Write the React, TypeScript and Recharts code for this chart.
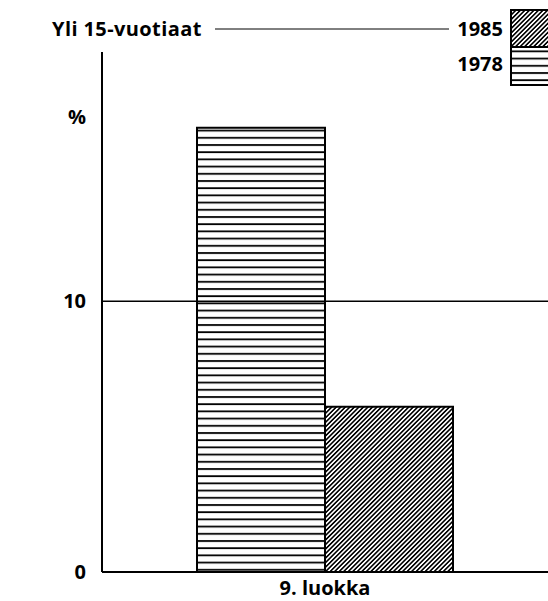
import React from "react";
import { BarChart, Bar, XAxis, YAxis, ReferenceLine } from "recharts";

const categories = ["9. luokka"];
const values1978 = [16.4];
const values1985 = [6.1];
const yTicks = [0, 10];
const groupLabel = "Yli 15-vuotiaat";
const seriesNames = ["1985", "1978"];

const data = categories.map((c, i) => ({ name: c, y1978: values1978[i], y1985: values1985[i] }));

const FONT = "'Open Sans', 'DejaVu Sans', sans-serif";
const textStyle = { fontFamily: FONT, fontWeight: 700, fontSize: 20, fill: "#000" };

function Patterns({ suffix }: { suffix: string }) {
  return (
    <defs>
      <pattern id={`horiz${suffix}`} patternUnits="userSpaceOnUse" width="10" height="7.2">
        <rect width="10" height="7.2" fill="#fff" />
        <line x1="0" y1="1" x2="10" y2="1" stroke="#000" strokeWidth="1.8" />
      </pattern>
      <pattern id={`diag${suffix}`} patternUnits="userSpaceOnUse" width="3.2" height="10" patternTransform="rotate(45)">
        <rect width="3.2" height="10" fill="#fff" />
        <line x1="0.8" y1="0" x2="0.8" y2="10" stroke="#000" strokeWidth="1.6" />
      </pattern>
    </defs>
  );
}

// title + legend in the top strip
function LegendBox() {
  return (
    <svg width={548} height={100} style={{ position: "absolute", left: 0, top: 0 }}>
      <Patterns suffix="L" />
      <text x={52} y={36} {...textStyle} letterSpacing={0.4}>
        {groupLabel}
      </text>
      <line x1={215} y1={29} x2={449} y2={29} stroke="#000" strokeWidth={1} />
      <text x={503} y={36} textAnchor="end" {...textStyle}>
        {seriesNames[0]}
      </text>
      <text x={503} y={71} textAnchor="end" {...textStyle}>
        {seriesNames[1]}
      </text>
      <rect x={511} y={10} width={50} height={37} fill="url(#diagL)" stroke="#000" strokeWidth={2} />
      <rect x={511} y={47} width={50} height={38} fill="url(#horizL)" stroke="#000" strokeWidth={2} />
    </svg>
  );
}

const XTick = (props: any) => {
  const { x, y, payload } = props;
  return (
    <text x={x} y={y + 15} textAnchor="middle" {...textStyle}>
      {payload.value}
    </text>
  );
};

const YTick = (props: any) => {
  const { x, y, payload } = props;
  return (
    <text x={x - 8} y={y + 7} textAnchor="end" {...textStyle}>
      {payload.value}
    </text>
  );
};

export default function App() {
  return (
    <div style={{ position: "absolute", left: 0, top: 0, width: 548, height: 601, background: "#fff" }}>
      <BarChart
        width={548}
        height={601}
        data={data}
        margin={{ top: 52, right: 0, bottom: 0, left: 0 }}
        barGap={0}
      >
        <Patterns suffix="" />
        <XAxis
          dataKey="name"
          height={29}
          tickLine={false}
          axisLine={{ stroke: "#000", strokeWidth: 2 }}
          tick={<XTick />}
        />
        <YAxis
          width={102}
          domain={[0, 19.2]}
          ticks={yTicks}
          tickLine={false}
          axisLine={{ stroke: "#000", strokeWidth: 2 }}
          tick={<YTick />}
          label={{
            value: "%",
            position: "insideTopLeft",
            offset: 0,
            dx: 68,
            dy: 58,
            style: textStyle,
          }}
        />
        <ReferenceLine y={10} stroke="#000" strokeWidth={1.5} />
        <Bar dataKey="y1978" name="1978" barSize={128} fill="url(#horiz)" stroke="#000" strokeWidth={2} isAnimationActive={false} />
        <Bar dataKey="y1985" name="1985" barSize={128} fill="url(#diag)" stroke="#000" strokeWidth={2} isAnimationActive={false} />
      </BarChart>
      <LegendBox />
    </div>
  );
}
